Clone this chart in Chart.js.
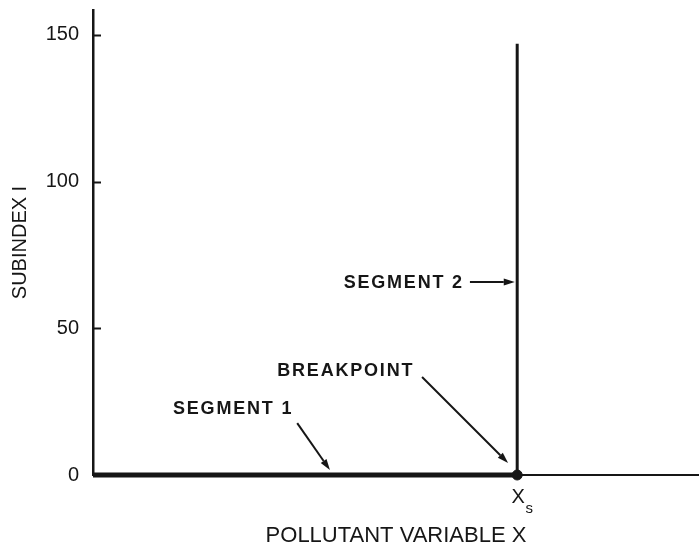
<!DOCTYPE html>
<html>
<head>
<meta charset="utf-8">
<script src="https://cdn.jsdelivr.net/npm/chart.js@4/dist/chart.umd.min.js"></script>
<style>
  html, body { margin: 0; padding: 0; background: #fff; }
  #wrap { width: 699px; height: 550px; position: relative; }
</style>
</head>
<body>
<div id="wrap"><canvas id="subindexChart"></canvas></div>
<script>
// values (x in % of the axis, y in subindex units)
const breakX = 70;
const segment1X = [0, 70];
const segment1Y = [0, 0];
const segment2X = [70, 70];
const segment2Y = [0, 147];
const yTicks = [0, 50, 100, 150];

const ink = "#161616";
const font = "'Liberation Sans', Arial, Helvetica, sans-serif";

// labels and arrows, anchored in data coordinates
const notes = [
  { text: "SEGMENT 2", x: 61.2, y: 65.5, align: "right" },
  { text: "BREAKPOINT", x: 30.4, y: 35.5, align: "left" },
  { text: "SEGMENT 1", x: 13.2, y: 22.5, align: "left" },
];
const arrows = [
  { from: [62.2, 65.8], to: [69.6, 65.8] },
  { from: [54.3, 33.4], to: [68.5, 4.1] },
  { from: [33.7, 17.7], to: [39.1, 1.7] },
];

function toPoints(xs, ys) {
  return xs.map((x, i) => ({ x: x, y: ys[i] }));
}

// short tick marks drawn inside the y axis, labels, arrows and X_s
const annotate = {
  id: "annotate",
  afterDraw(chart) {
    const { ctx, scales } = chart;
    const x = scales.x;
    const y = scales.y;
    ctx.save();
    ctx.strokeStyle = ink;
    ctx.fillStyle = ink;

    // inner tick marks
    ctx.lineWidth = 2;
    yTicks.forEach((v) => {
      if (v === 0) return;
      const py = Math.round(y.getPixelForValue(v)) + 0.5;
      ctx.beginPath();
      ctx.moveTo(x.left, py);
      ctx.lineTo(x.left + 8, py);
      ctx.stroke();
    });

    // text labels
    ctx.font = "bold 18px " + font;
    ctx.letterSpacing = "1.8px";
    ctx.textBaseline = "middle";
    notes.forEach((n) => {
      ctx.textAlign = n.align;
      ctx.fillText(n.text, x.getPixelForValue(n.x), y.getPixelForValue(n.y));
    });
    ctx.letterSpacing = "0px";

    // arrows
    ctx.lineWidth = 2;
    arrows.forEach((a) => {
      const x1 = x.getPixelForValue(a.from[0]);
      const y1 = y.getPixelForValue(a.from[1]);
      const x2 = x.getPixelForValue(a.to[0]);
      const y2 = y.getPixelForValue(a.to[1]);
      const ang = Math.atan2(y2 - y1, x2 - x1);
      const head = 11;
      const bx = x2 - head * Math.cos(ang);
      const by = y2 - head * Math.sin(ang);
      ctx.beginPath();
      ctx.moveTo(x1, y1);
      ctx.lineTo(bx, by);
      ctx.stroke();
      ctx.beginPath();
      ctx.moveTo(x2, y2);
      ctx.lineTo(bx + 3.5 * Math.sin(ang), by - 3.5 * Math.cos(ang));
      ctx.lineTo(bx - 3.5 * Math.sin(ang), by + 3.5 * Math.cos(ang));
      ctx.closePath();
      ctx.fill();
    });

    // X_s tick label
    const px = x.getPixelForValue(breakX);
    ctx.textAlign = "center";
    ctx.textBaseline = "alphabetic";
    ctx.font = "20px " + font;
    ctx.fillText("X", px + 1, 503);
    ctx.font = "15px " + font;
    ctx.fillText("s", px + 12, 513);
    ctx.restore();
  },
};

new Chart(document.getElementById("subindexChart"), {
  type: "line",
  data: {
    datasets: [
      {
        label: "Segment 1",
        data: toPoints(segment1X, segment1Y),
        borderColor: ink,
        borderWidth: 5,
        pointRadius: 0,
        clip: false,
      },
      {
        label: "Segment 2",
        data: toPoints(segment2X, segment2Y),
        borderColor: ink,
        borderWidth: 3,
        pointRadius: 0,
        clip: false,
      },
      {
        label: "Breakpoint",
        type: "scatter",
        data: [{ x: breakX, y: 0 }],
        backgroundColor: ink,
        borderColor: ink,
        pointRadius: 5,
        clip: false,
      },
    ],
  },
  options: {
    responsive: true,
    maintainAspectRatio: false,
    animation: false,
    layout: { autoPadding: false, padding: { top: 10, right: 0, left: 0, bottom: 0 } },
    plugins: {
      legend: { display: false },
      tooltip: { enabled: false },
    },
    scales: {
      x: {
        type: "linear",
        min: 0,
        max: 100,
        afterFit: (scale) => {
          scale.height = 75;
          scale.paddingLeft = 0;
          scale.paddingRight = 0;
        },
        ticks: { display: false },
        grid: { drawOnChartArea: false, drawTicks: false },
        border: { display: true, color: ink, width: 2 },
        title: {
          display: true,
          text: "POLLUTANT VARIABLE X",
          color: ink,
          font: { family: font, size: 22 },
          padding: { top: 4, bottom: 1 },
        },
      },
      y: {
        type: "linear",
        min: 0,
        max: 158.5,
        afterFit: (scale) => {
          scale.width = 93;
          scale.paddingTop = 0;
          scale.paddingBottom = 0;
        },
        afterBuildTicks: (scale) => {
          scale.ticks = yTicks.map((v) => ({ value: v }));
        },
        ticks: {
          color: ink,
          padding: 14,
          font: { family: font, size: 20 },
        },
        grid: { drawOnChartArea: false, drawTicks: false },
        border: { display: true, color: ink, width: 2.5 },
        title: {
          display: true,
          text: "SUBINDEX I",
          color: ink,
          font: { family: font, size: 20 },
          padding: { top: 8, bottom: 0 },
        },
      },
    },
  },
  plugins: [annotate],
});
</script>
</body>
</html>
